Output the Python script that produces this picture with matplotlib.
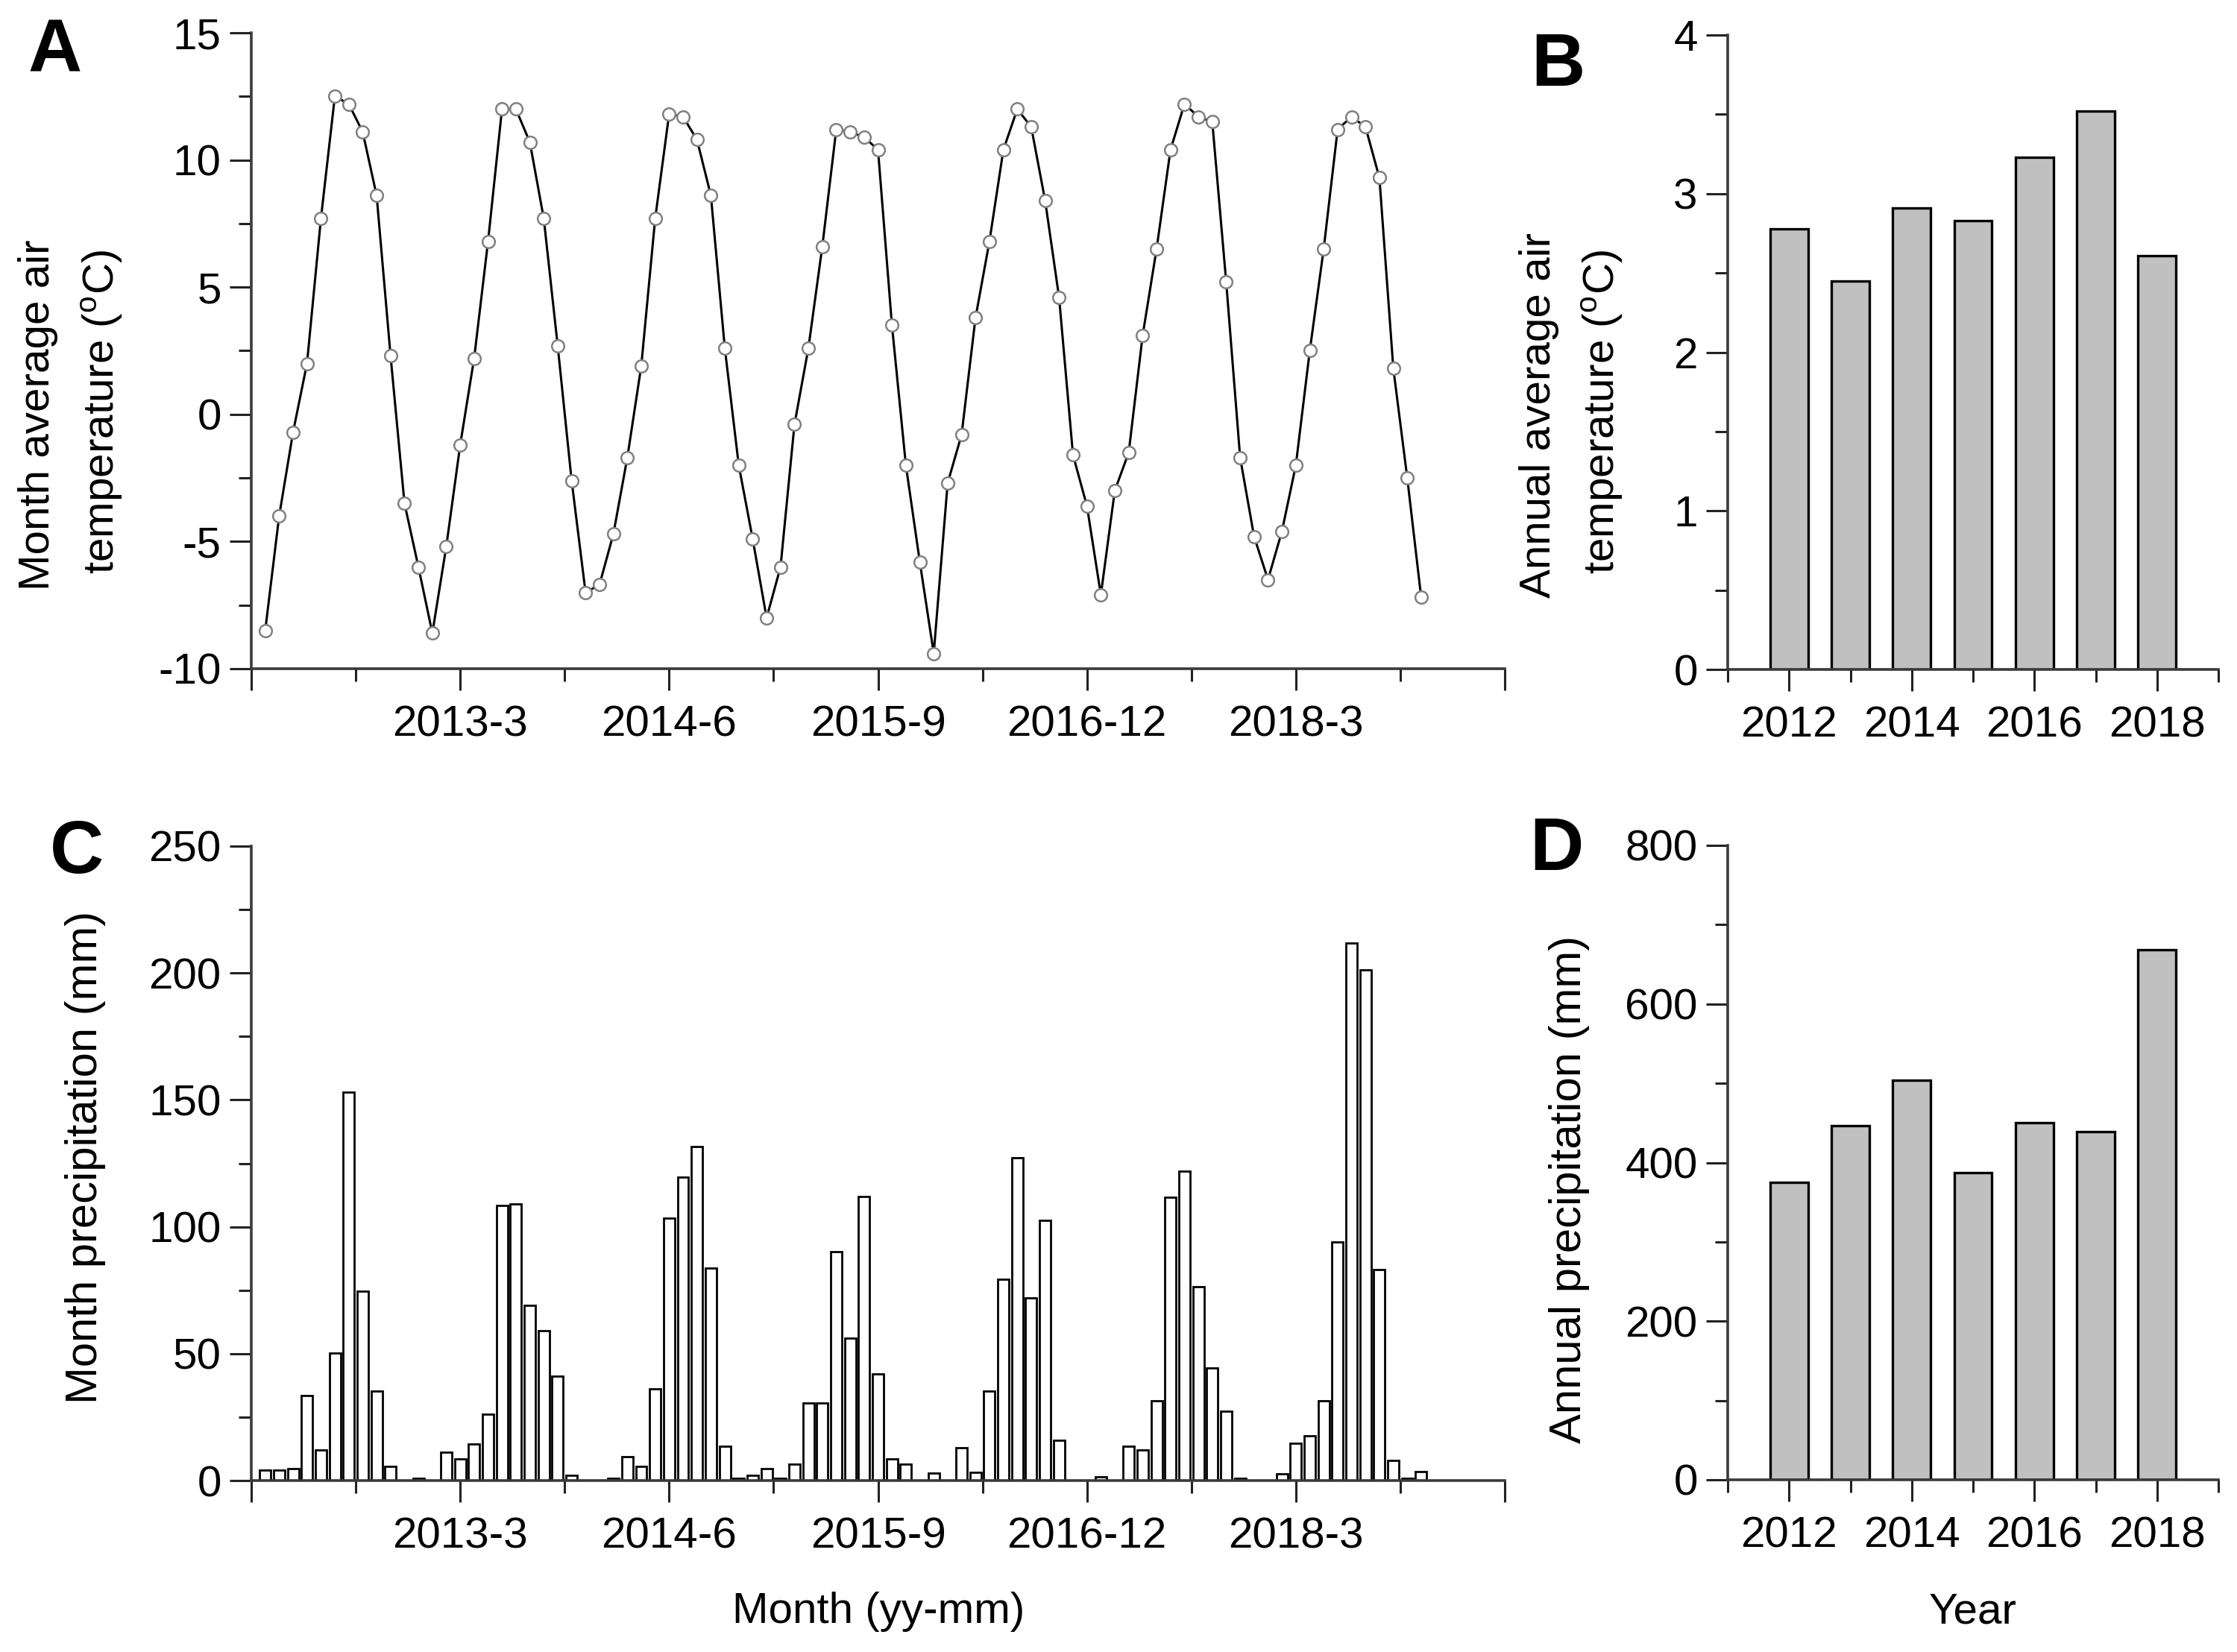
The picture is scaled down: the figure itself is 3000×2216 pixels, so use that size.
import matplotlib
matplotlib.use('Agg')
import matplotlib.pyplot as plt
from matplotlib.ticker import FixedLocator, MultipleLocator
import numpy as np

plt.rcParams['font.family'] = ['Liberation Sans', 'DejaVu Sans']
plt.rcParams['mathtext.fontset'] = 'custom'
plt.rcParams['mathtext.rm'] = 'Liberation Sans'
plt.rcParams['axes.unicode_minus'] = False

# ---------------- data ----------------
start_year = 2012
# monthly mean air temperature (deg C), Jan 2012 .. Dec 2018
temp_2012 = [-8.5, -4.0, -0.7, 2.0, 7.7, 12.5, 12.2, 11.1, 8.6, 2.3, -3.5, -6.0]
temp_2013 = [-8.6, -5.2, -1.2, 2.2, 6.8, 12.0, 12.0, 10.7, 7.7, 2.7, -2.6, -7.0]
temp_2014 = [-6.7, -4.7, -1.7, 1.9, 7.7, 11.8, 11.7, 10.8, 8.6, 2.6, -2.0, -4.9]
temp_2015 = [-8.0, -6.0, -0.4, 2.6, 6.6, 11.2, 11.1, 10.9, 10.4, 3.5, -2.0, -5.8]
temp_2016 = [-9.4, -2.7, -0.8, 3.8, 6.8, 10.4, 12.0, 11.3, 8.4, 4.6, -1.6, -3.6]
temp_2017 = [-7.1, -3.0, -1.5, 3.1, 6.5, 10.4, 12.2, 11.7, 11.5, 5.2, -1.7, -4.8]
temp_2018 = [-6.5, -4.6, -2.0, 2.5, 6.5, 11.2, 11.7, 11.3, 9.3, 1.8, -2.5, -7.2]

# monthly precipitation (mm)
prec_2012 = [4.0, 4.0, 4.8, 33.6, 12.1, 50.3, 153.1, 74.5, 35.3, 5.7, 0.0, 1.0]
prec_2013 = [0.0, 11.2, 8.6, 14.3, 26.2, 108.3, 109.1, 69.0, 59.0, 41.0, 2.1, 0.0]
prec_2014 = [0.0, 0.9, 9.5, 5.7, 36.2, 103.4, 119.5, 131.6, 83.6, 13.4, 0.9, 2.1]
prec_2015 = [4.8, 0.9, 6.4, 30.5, 30.5, 90.2, 56.0, 112.0, 41.9, 8.6, 6.4, 0.0]
prec_2016 = [2.9, 0.0, 12.9, 3.1, 35.3, 79.3, 127.2, 72.1, 102.6, 15.9, 0.0, 0.0]
prec_2017 = [1.4, 0.0, 13.4, 12.1, 31.4, 111.7, 121.9, 76.4, 44.3, 27.2, 0.9, 0.0]
prec_2018 = [0.0, 2.6, 14.7, 17.6, 31.4, 94.0, 211.7, 201.2, 83.1, 7.8, 0.9, 3.4]

years = [2012, 2013, 2014, 2015, 2016, 2017, 2018]
annual_temp = [2.78, 2.45, 2.91, 2.83, 3.23, 3.52, 2.61]
annual_prec = [375, 447, 504, 387, 450, 439, 668]

month_tick_labels = ['2013-3', '2014-6', '2015-9', '2016-12', '2018-3']
year_tick_labels = ['2012', '2014', '2016', '2018']

temp = temp_2012 + temp_2013 + temp_2014 + temp_2015 + temp_2016 + temp_2017 + temp_2018
prec = prec_2012 + prec_2013 + prec_2014 + prec_2015 + prec_2016 + prec_2017 + prec_2018
months = np.arange(len(temp))

def month_index(lbl):
    y, m = lbl.split('-')
    return (int(y) - start_year) * 12 + int(m) - 1

# ---------------- figure ----------------
W, H = 3000, 2216
DPI = 200
fig = plt.figure(figsize=(W / DPI, H / DPI), dpi=DPI)

def rect(l, t, r, b):
    return [l / W, 1 - b / H, (r - l) / W, (b - t) / H]

axA = fig.add_axes(rect(337, 44, 2018, 897))
axB = fig.add_axes(rect(2317, 47, 2975, 898))
axC = fig.add_axes(rect(337, 1135, 2018, 1986))
axD = fig.add_axes(rect(2317, 1134, 2975, 1985))

FS = 21
SPINE = '#3a3a3a'

def style(ax):
    for s in ['top', 'right']:
        ax.spines[s].set_visible(False)
    for s in ['left', 'bottom']:
        ax.spines[s].set_linewidth(1.3)
        ax.spines[s].set_color(SPINE)
    ax.tick_params(which='major', direction='out', length=10.5, width=1.1,
                   color='#222222', labelsize=FS)
    ax.tick_params(which='minor', direction='out', length=6, width=1.1,
                   color='#222222')
    ax.tick_params(axis='x', which='major', pad=7)
    ax.tick_params(axis='y', which='major', pad=4)

def month_axis(ax):
    pos = [month_index(l) for l in month_tick_labels]
    step = pos[1] - pos[0]
    major = [pos[0] - step] + pos + [pos[-1] + step]
    labels = [''] + month_tick_labels + ['']
    ax.set_xlim(major[0], major[-1])
    ax.xaxis.set_major_locator(FixedLocator(major))
    ax.set_xticklabels(labels)
    ax.xaxis.set_minor_locator(FixedLocator([p + step / 2 for p in major[:-1]]))

def year_axis(ax):
    ax.set_xlim(years[0] - 1, years[-1] + 1)
    ax.xaxis.set_major_locator(FixedLocator([int(t) for t in year_tick_labels]))
    ax.set_xticklabels(year_tick_labels)
    ax.xaxis.set_minor_locator(FixedLocator(list(range(years[0] - 1, years[-1] + 2, 2))))

# Panel A
style(axA)
axA.plot(months, temp, color='black', lw=1.1, marker='o', ms=6.0,
         mfc='white', mec='#808080', mew=0.9, clip_on=False, zorder=3)
axA.set_ylim(-10, 15)
axA.yaxis.set_major_locator(MultipleLocator(5))
axA.yaxis.set_minor_locator(MultipleLocator(2.5))
month_axis(axA)

# Panel B
style(axB)
axB.bar(years, annual_temp, width=0.62, color='#c0c0c0', edgecolor='black', lw=1.2)
axB.set_ylim(0, 4)
axB.yaxis.set_major_locator(MultipleLocator(1))
axB.yaxis.set_minor_locator(MultipleLocator(0.5))
year_axis(axB)

# Panel C
style(axC)
axC.bar(months, prec, width=0.8, color='white', edgecolor='black', lw=1.0)
axC.set_ylim(0, 250)
axC.yaxis.set_major_locator(MultipleLocator(50))
axC.yaxis.set_minor_locator(MultipleLocator(25))
month_axis(axC)

# Panel D
style(axD)
axD.bar(years, annual_prec, width=0.62, color='#c0c0c0', edgecolor='black', lw=1.2)
axD.set_ylim(0, 800)
axD.yaxis.set_major_locator(MultipleLocator(200))
axD.yaxis.set_minor_locator(MultipleLocator(100))
year_axis(axD)

# ---------------- texts ----------------
def ftext(x, y, s, **kw):
    fig.text(x / W, 1 - y / H, s, **kw)

for lbl, x, y in [('A', 38, 97), ('B', 2053, 115), ('C', 67, 1171), ('D', 2051, 1167)]:
    ftext(x, y, lbl, fontsize=36, fontweight='bold', ha='left', va='baseline')

deg = r'($^{\mathrm{o}}$C)'
ftext(51, 557, 'Month average air', rotation=90, ha='center', va='center', fontsize=FS)
ftext(137, 552, 'temperature ' + deg, rotation=90, ha='center', va='center', fontsize=FS)
ftext(2064, 557, 'Annual average air', rotation=90, ha='center', va='center', fontsize=FS)
ftext(2149, 552, 'temperature ' + deg, rotation=90, ha='center', va='center', fontsize=FS)
ftext(115, 1552, 'Month precipitation (mm)', rotation=90, ha='center', va='center', fontsize=FS + 0.5)
ftext(2104, 1595, 'Annual precipitation (mm)', rotation=90, ha='center', va='center', fontsize=FS + 0.5)
ftext(1178, 2162, 'Month (yy-mm)', ha='center', va='center', fontsize=FS)
ftext(2646, 2162, 'Year', ha='center', va='center', fontsize=FS)

fig.savefig('out.png', dpi=DPI, facecolor='white')
